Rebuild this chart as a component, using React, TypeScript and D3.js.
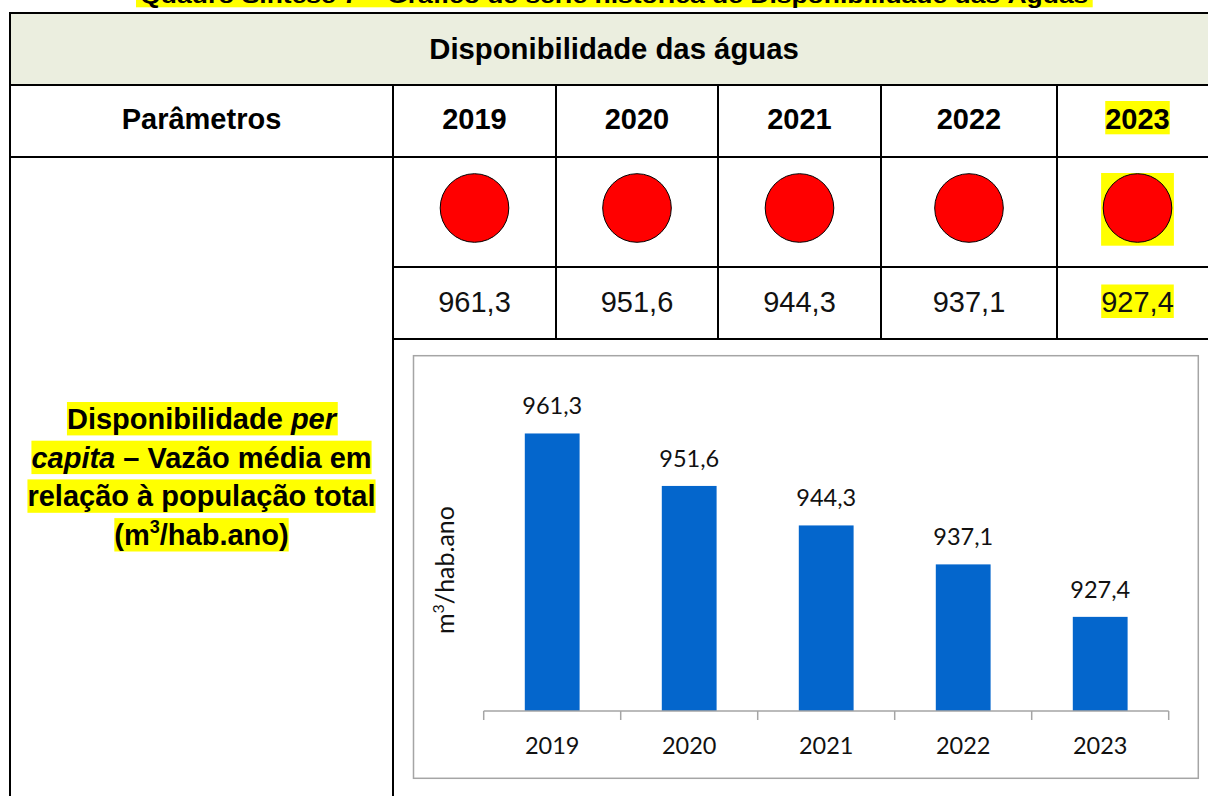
import React, { useEffect, useRef } from 'react';
import * as d3 from 'd3';

// ---- data ----
const years: string[] = ['2019', '2020', '2021', '2022', '2023'];
const values: number[] = [961.3, 951.6, 944.3, 937.1, 927.4];
const valueLabels: string[] = ['961,3', '951,6', '944,3', '937,1', '927,4'];
const highlightYears: string[] = ['2023'];
const yDomain: number[] = [910, 970];
const caption = 'Quadro Síntese 7 – Gráfico de série histórica de Disponibilidade das Águas';
const tableTitle = 'Disponibilidade das águas';
const headerLabel = 'Parâmetros';
const yAxisTitle = ['m', '3', '/hab.ano'];
type Seg = { t: string; italic?: boolean; sup?: boolean };
const paramLines: Seg[][] = [
  [{ t: 'Disponibilidade ' }, { t: 'per', italic: true }],
  [{ t: 'capita', italic: true }, { t: ' – Vazão média em' }],
  [{ t: 'relação à população total' }],
  [{ t: '(m' }, { t: '3', sup: true }, { t: '/hab.ano)' }],
];

const ARIAL = '"Liberation Sans", Arial, sans-serif';
const CALIBRI = 'Lato, "Open Sans", sans-serif';
const YELLOW = '#ffff00';

export default function App() {
  const ref = useRef<SVGSVGElement>(null);

  useEffect(() => {
    const svg = d3.select(ref.current);
    svg.selectAll('*').remove();

    // layout
    const colEdges = [10, 393, 556, 718, 881, 1057, 1218];
    const rowTop = 13, rowTitle = 85, rowHeader = 157, rowCircle = 267, rowValue = 339, bottom = 800;
    const colCenter = (i: number) => (colEdges[i] + colEdges[i + 1]) / 2;

    // caption (cut off at top, as in the reference)
    const capG = svg.append('g');
    capG.append('rect').attr('x', 136).attr('y', -22).attr('width', 956.7).attr('height', 29.3).attr('fill', YELLOW);
    capG.append('text')
      .attr('x', 614.3).attr('y', 3)
      .attr('text-anchor', 'middle')
      .attr('font-family', ARIAL).attr('font-weight', 'bold').attr('font-size', 22)
      .attr('textLength', 948).attr('lengthAdjust', 'spacingAndGlyphs')
      .text(caption);

    // title row background
    svg.append('rect').attr('x', colEdges[0]).attr('y', rowTop)
      .attr('width', colEdges[6] - colEdges[0]).attr('height', rowTitle - rowTop)
      .attr('fill', '#ebeedf');

    svg.append('text')
      .attr('x', 614).attr('y', 58.5).attr('text-anchor', 'middle')
      .attr('font-family', ARIAL).attr('font-weight', 'bold').attr('font-size', 29.3)
      .text(tableTitle);

    // header row
    svg.append('text')
      .attr('x', colCenter(0)).attr('y', 129).attr('text-anchor', 'middle')
      .attr('font-family', ARIAL).attr('font-weight', 'bold').attr('font-size', 29)
      .text(headerLabel);

    years.forEach((yr, i) => {
      const cx = colCenter(i + 1);
      const g = svg.append('g');
      const t = g.append('text')
        .attr('x', cx).attr('y', 129).attr('text-anchor', 'middle')
        .attr('font-family', ARIAL).attr('font-weight', 'bold').attr('font-size', 29)
        .text(yr);
      if (highlightYears.includes(yr)) {
        const bb = (t.node() as SVGTextElement).getBBox();
        g.insert('rect', 'text').attr('x', bb.x).attr('y', 101).attr('width', bb.width).attr('height', 33.3).attr('fill', YELLOW);
      }
      // circle row
      const cy = 208;
      if (highlightYears.includes(yr)) {
        svg.append('rect').attr('x', cx - 36.4).attr('y', 173).attr('width', 72.8).attr('height', 72.7).attr('fill', YELLOW);
      }
      svg.append('circle').attr('cx', cx).attr('cy', cy).attr('r', 34.3)
        .attr('fill', '#ff0000').attr('stroke', '#000').attr('stroke-width', 1);
      // value row
      const vg = svg.append('g');
      const vt = vg.append('text')
        .attr('x', cx).attr('y', 312).attr('text-anchor', 'middle')
        .attr('font-family', ARIAL).attr('font-size', 29).attr('fill', '#111')
        .text(valueLabels[i]);
      if (highlightYears.includes(yr)) {
        const bb = (vt.node() as SVGTextElement).getBBox();
        vg.insert('rect', 'text').attr('x', bb.x).attr('y', 284.5).attr('width', bb.width).attr('height', 33.5).attr('fill', YELLOW);
      }
    });

    // parameter description (left column)
    paramLines.forEach((line, li) => {
      const base = 429 + li * 38.7;
      const g = svg.append('g');
      const t = g.append('text')
        .attr('x', colCenter(0)).attr('y', base).attr('text-anchor', 'middle')
        .attr('font-family', ARIAL).attr('font-weight', 'bold').attr('font-size', 29);
      line.forEach((s) => {
        const ts = t.append('tspan').text(s.t);
        if (s.italic) ts.attr('font-style', 'italic');
        if (s.sup) ts.attr('font-size', 18).attr('baseline-shift', '65%');
      });
      const bb = (t.node() as SVGTextElement).getBBox();
      g.insert('rect', 'text').attr('x', bb.x).attr('y', base - 27).attr('width', bb.width).attr('height', 33.4).attr('fill', YELLOW);
    });

    // table grid
    const lines: [number, number, number, number][] = [
      [colEdges[0], rowTop, colEdges[6], rowTop],
      [colEdges[0], rowTitle, colEdges[6], rowTitle],
      [colEdges[0], rowHeader, colEdges[6], rowHeader],
      [colEdges[1], rowCircle, colEdges[6], rowCircle],
      [colEdges[1], rowValue, colEdges[6], rowValue],
      [colEdges[0], rowTop, colEdges[0], bottom],
      [colEdges[1], rowTitle, colEdges[1], bottom],
      [colEdges[2], rowTitle, colEdges[2], rowValue],
      [colEdges[3], rowTitle, colEdges[3], rowValue],
      [colEdges[4], rowTitle, colEdges[4], rowValue],
      [colEdges[5], rowTitle, colEdges[5], rowValue],
    ];
    svg.append('g').selectAll('line').data(lines).join('line')
      .attr('x1', (d) => d[0]).attr('y1', (d) => d[1]).attr('x2', (d) => d[2]).attr('y2', (d) => d[3])
      .attr('stroke', '#000').attr('stroke-width', 2).attr('stroke-linecap', 'square');

    // ---- bar chart ----
    const chart = svg.append('g');
    chart.append('rect').attr('x', 413.5).attr('y', 355.7).attr('width', 784.8).attr('height', 422.6)
      .attr('fill', '#fff').attr('stroke', '#a5a5a5').attr('stroke-width', 1.5);

    const x = d3.scaleBand<string>().domain(years).range([483.7, 1168.7]).padding(0);
    const y = d3.scaleLinear().domain(yDomain).range([711, 386.4]);
    const barW = x.bandwidth() * 0.4;

    chart.selectAll('rect.bar').data(values).join('rect')
      .attr('class', 'bar')
      .attr('x', (_d, i) => (x(years[i]) as number) + (x.bandwidth() - barW) / 2)
      .attr('y', (d) => y(d))
      .attr('width', barW)
      .attr('height', (d) => y(yDomain[0]) - y(d))
      .attr('fill', '#0466cc');

    chart.selectAll('text.lbl').data(values).join('text')
      .attr('class', 'lbl')
      .attr('x', (_d, i) => (x(years[i]) as number) + x.bandwidth() / 2)
      .attr('y', (d) => y(d) - 19)
      .attr('text-anchor', 'middle')
      .attr('font-family', CALIBRI).attr('font-size', 23.5).attr('fill', '#111')
      .text((_d, i) => valueLabels[i]);

    // x axis
    const y0 = y(yDomain[0]);
    const [r0, r1] = x.range();
    chart.append('line').attr('x1', r0).attr('x2', r1).attr('y1', y0).attr('y2', y0)
      .attr('stroke', '#a5a5a5').attr('stroke-width', 1.5);
    const tickXs = years.map((yr) => x(yr) as number).concat([r1]);
    chart.selectAll('line.tick').data(tickXs).join('line')
      .attr('class', 'tick')
      .attr('x1', (d) => d).attr('x2', (d) => d).attr('y1', y0).attr('y2', y0 + 9)
      .attr('stroke', '#a5a5a5').attr('stroke-width', 1.5);
    chart.selectAll('text.xl').data(years).join('text')
      .attr('class', 'xl')
      .attr('x', (d) => (x(d) as number) + x.bandwidth() / 2)
      .attr('y', 754)
      .attr('text-anchor', 'middle')
      .attr('font-family', CALIBRI).attr('font-size', 23.5).attr('fill', '#111')
      .text((d) => d);

    // y axis title
    const yt = chart.append('text')
      .attr('transform', 'translate(453.5,570) rotate(-90)')
      .attr('text-anchor', 'middle')
      .attr('font-family', CALIBRI).attr('font-size', 25).attr('fill', '#111');
    yt.append('tspan').text(yAxisTitle[0]);
    yt.append('tspan').text(yAxisTitle[1]).attr('font-size', 16).attr('baseline-shift', '60%');
    yt.append('tspan').text(yAxisTitle[2]);
  }, []);

  return (
    <svg
      ref={ref}
      width={1208}
      height={796}
      style={{ position: 'absolute', left: 0, top: 0, display: 'block' }}
    />
  );
}
